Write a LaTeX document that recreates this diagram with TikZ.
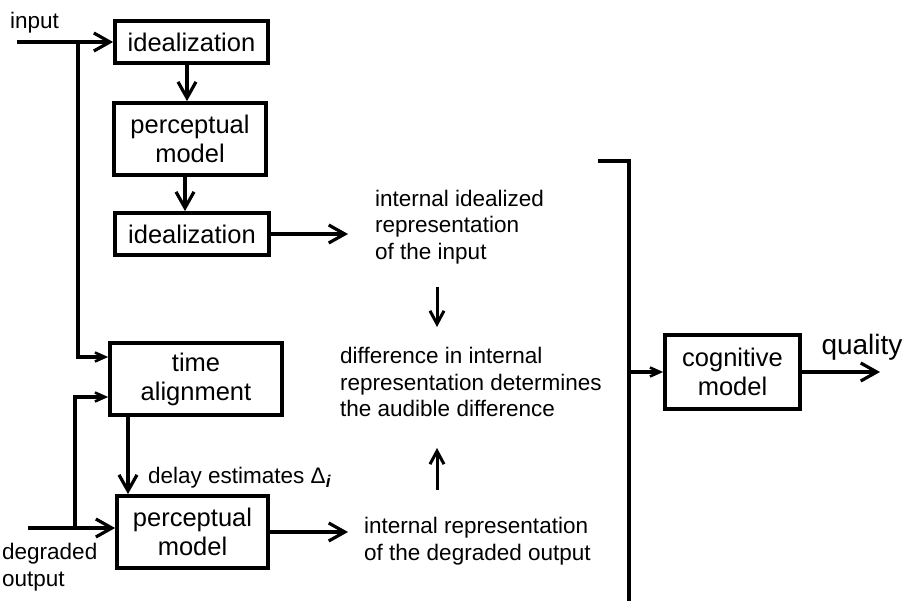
\documentclass[tikz,border=0pt]{standalone}
\usepackage{fontspec}
\setmainfont{Liberation Sans}
\usetikzlibrary{arrows.meta}
\begin{document}
\begin{tikzpicture}[x=1pt,y=-1pt,
  box/.style={draw,line width=3.8pt,inner sep=0pt,align=center,font=\fontsize{25.5}{29}\selectfont},
  arr/.style={line width=3.2pt,-{Straight Barb[length=16pt,width=18pt,line width=3.2pt]}},
  marr/.style={line width=3pt,-{Straight Barb[length=13pt,width=14pt,line width=3pt]}},
  sarr/.style={line width=3.4pt,-{Straight Barb[length=10pt,width=9pt,line width=2.6pt]}},
  lbl/.style={inner sep=0pt,font=\fontsize{22.5}{26.7}\selectfont},
  line/.style={line width=3.6pt}]
\useasboundingbox (0,0) rectangle (908,600);

% boxes
\node[box,minimum width=153pt,minimum height=42pt] (ideal1) at (191.5,42) {idealization};
\node[box,minimum width=152pt,minimum height=72pt] (perc1) at (190,139) {perceptual\\model};
\node[box,minimum width=154pt,minimum height=42pt] (ideal2) at (192,234) {idealization};
\node[box,minimum width=172pt,minimum height=72pt] (time) at (196,379) {time\\alignment};
\node[box,minimum width=151pt,minimum height=72pt] (perc2) at (192.5,532) {perceptual\\model};
\node[box,minimum width=135pt,minimum height=74pt] (cog) at (732.5,372) {cognitive\\model};

% labels
\node[lbl,anchor=west] (inp) at (10,23) {input};
\node[lbl,anchor=west,align=left] (deg) at (2,567) {degraded\\output};
\node[lbl,anchor=west] (de) at (148,478) {delay estimates Δ\raisebox{-0.35ex}{\fontsize{17}{17}\selectfont\bfseries\itshape i}};
\node[lbl,anchor=west,align=left] (ii) at (375,227) {internal idealized\\representation\\of the input};
\node[lbl,anchor=west,align=left] (diff) at (340,382) {difference in internal\\representation determines\\the audible difference};
\node[lbl,anchor=west,align=left] (ir) at (364,541) {internal representation\\of the degraded output};
\node[inner sep=0pt,font=\fontsize{28}{32}\selectfont] (q) at (862,347) {quality};

% coordinates
\coordinate (i0) at (17,42);
\coordinate (j1) at (78,42);
\coordinate (j2) at (78,357);
\coordinate (d0) at (28,528);
\coordinate (d1) at (75,528);
\coordinate (d2) at (75,397);
\coordinate (cA) at (187,0);
\coordinate (cB) at (185,0);
\coordinate (tx) at (128,0);
\coordinate (e1) at (348,234);
\coordinate (e2) at (348,532);
\coordinate (m1) at (437,287);
\coordinate (m2) at (437,327);
\coordinate (m3) at (437,490);
\coordinate (m4) at (437,448);
\coordinate (bt) at (598,161);
\coordinate (bc) at (629,161);
\coordinate (bb) at (629,602);
\coordinate (bm) at (629,372);
\coordinate (qe) at (880,372);

% connectors
\draw[arr] (i0) -- (ideal1.west);
\draw[sarr] (j1) -- (j2) -- (j2 -| time.west);
\draw[arr] (ideal1.south -| cA) -- (perc1.north -| cA);
\draw[arr] (perc1.south -| cB) -- (ideal2.north -| cB);
\draw[arr] (ideal2.east) -- (e1);
\draw[arr] (d0) -- (d0 -| perc2.west);
\draw[sarr] (d1) -- (d2) -- (d2 -| time.west);
\draw[arr] (time.south -| tx) -- (perc2.north -| tx);
\draw[arr] (perc2.east) -- (e2);
\draw[marr] (m1) -- (m2);
\draw[marr] (m3) -- (m4);
\draw[line] (bt) -- (bc) -- (bb);
\draw[sarr] (bm) -- (cog.west);
\draw[arr] (cog.east) -- (qe);
\end{tikzpicture}
\end{document}
